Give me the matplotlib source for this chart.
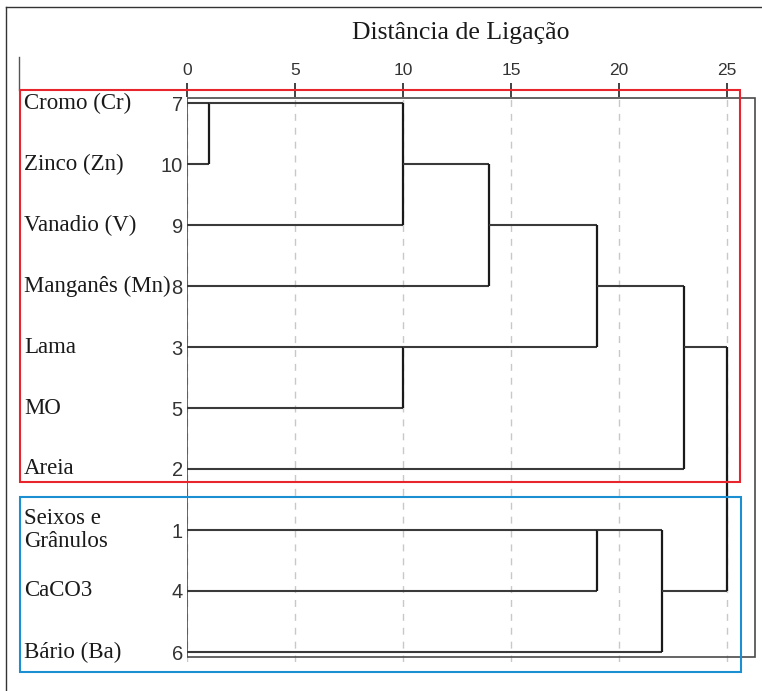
import numpy as np
import matplotlib
matplotlib.use("Agg")
import matplotlib.pyplot as plt
from matplotlib.patches import Rectangle
from matplotlib.lines import Line2D
from matplotlib.transforms import blended_transform_factory

# leaf order (case numbers) and variable names, top to bottom
leaf_ids = [7, 10, 9, 8, 3, 5, 2, 1, 4, 6]
leaf_names = ["Cromo (Cr)", "Zinco (Zn)", "Vanadio (V)", "Manganês (Mn)", "Lama",
              "MO", "Areia", "Seixos e\nGrânulos", "CaCO3", "Bário (Ba)"]

# agglomeration schedule: clusters 11.. are created in this order
merge_a = [7, 11, 3, 12, 14, 1, 16, 15, 18]
merge_b = [10, 9, 5, 8, 13, 4, 6, 2, 17]
merge_dist = [1, 10, 10, 14, 19, 19, 22, 23, 25]

ticks = [0, 5, 10, 15, 20, 25]

W, H = 762, 691
fig = plt.figure(figsize=(W / 100, H / 100), dpi=100)

# axes area in pixels
left, right, top, bottom = 187, 762, 97, 662
ax = fig.add_axes([left / W, (H - bottom) / H, (right - left) / W, (bottom - top) / H])
px_per_unit = 21.6
row_px = 61
ax.set_xlim(0, (right - left) / px_per_unit)
ax.set_ylim((bottom - 103) / row_px, (top - 103) / row_px)

for s in ax.spines.values():
    s.set_visible(False)

ax.xaxis.tick_top()
ax.set_xticks(ticks)
ax.set_xticklabels([str(t) for t in ticks], family=["Liberation Sans Narrow", "Liberation Sans"],
                   fontsize=12.5, color="#333333")
ax.tick_params(axis="x", length=10, width=1.2, color="#222222", pad=4)
ax.grid(axis="x", linestyle=(0, (5, 5)), color="#c8c8c8", linewidth=1)

ax.set_yticks(range(len(leaf_ids)))
ax.set_yticklabels([str(i) for i in leaf_ids], family=["Liberation Sans Narrow", "Liberation Sans"],
                   fontsize=14.5, color="#333333")
ax.tick_params(axis="y", length=0, pad=3)

# node positions: leaves at their row, clusters at floor of midpoint row
pos = {lid: (0.0, float(r)) for r, lid in enumerate(leaf_ids)}
for k, (a, b, d) in enumerate(zip(merge_a, merge_b, merge_dist)):
    xa, ya = pos[a]
    xb, yb = pos[b]
    ax.plot([xa, d], [ya, ya], color="#3a3a3a", lw=1.5, solid_capstyle="butt", zorder=3)
    ax.plot([xb, d], [yb, yb], color="#3a3a3a", lw=1.5, solid_capstyle="butt", zorder=3)
    ax.plot([d, d], [ya, yb], color="#1a1a1a", lw=1.6, solid_capstyle="butt", zorder=3)
    pos[11 + k] = (float(d), float(np.floor((ya + yb) / 2)))

# frame around the tree
ax.add_patch(Rectangle((0, -0.09), 26.3, 9.17, fill=False, edgecolor="#4a4a4a", lw=1.2, zorder=2))

# variable names
tr = blended_transform_factory(fig.transFigure, ax.transData)
for r, name in enumerate(leaf_names):
    ax.text(24 / W, r, name, transform=tr, ha="left", va="center", fontsize=16.5,
            family="Liberation Serif", color="#1a1a1a", linespacing=1.15, clip_on=False)

fig.text(461 / W, 1 - 33 / H, "Distância de Ligação", ha="center", va="center",
         fontsize=18.5, family="Liberation Serif", color="#1a1a1a")

# outer border lines
fig.add_artist(Line2D([6 / W, 6 / W], [0, 1 - 7 / H], color="#333333", lw=1))
fig.add_artist(Line2D([6 / W, 1], [1 - 7 / H, 1 - 7 / H], color="#333333", lw=1))
fig.add_artist(Line2D([19 / W, 19 / W], [1 - 57 / H, 1 - 90 / H], color="#555555", lw=1))

# group boxes
def box(x0, y0, x1, y1, color):
    fig.add_artist(Rectangle((x0 / W, 1 - y1 / H), (x1 - x0) / W, (y1 - y0) / H,
                             fill=False, edgecolor=color, lw=1.5, zorder=5))

box(20, 90, 740, 482, "#e8242c")
box(20, 497, 741, 672, "#1b8fd2")

fig.savefig("out.png", dpi=100)
